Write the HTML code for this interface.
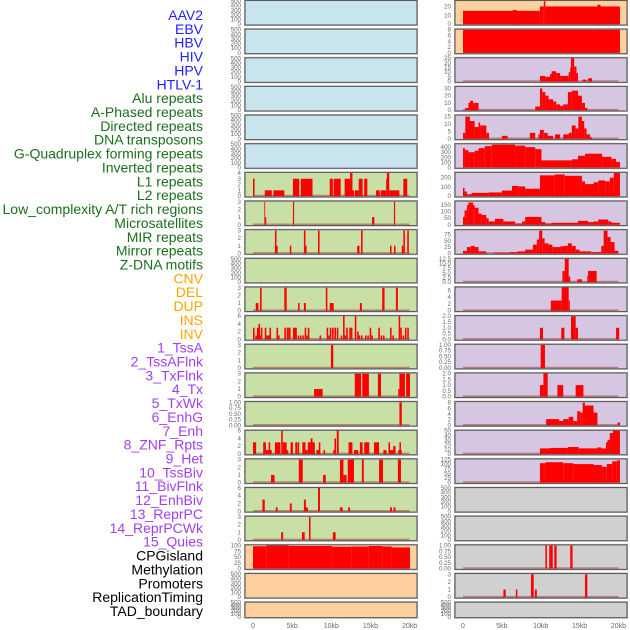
<!DOCTYPE html>
<html><head><meta charset="utf-8"><style>
html,body{margin:0;padding:0;background:#fff;}
svg{display:block;}
text{font-family:"Liberation Sans",sans-serif;}
</style></head><body>
<svg id="chart" width="630" height="630" viewBox="0 0 630 630" xmlns="http://www.w3.org/2000/svg">
<g id="labels"></g>
<g id="panels"></g>
<g id="xaxes"></g>
</svg>
<script>
// ---- Data ----
const trackLabels = ["AAV2","EBV","HBV","HIV","HPV","HTLV-1","Alu repeats","A-Phased repeats","Directed repeats","DNA transposons","G-Quadruplex forming repeats","Inverted repeats","L1 repeats","L2 repeats","Low_complexity A/T rich regions","Microsatellites","MIR repeats","Mirror repeats","Z-DNA motifs","CNV","DEL","DUP","INS","INV","1_TssA","2_TssAFlnk","3_TxFlnk","4_Tx","5_TxWk","6_EnhG","7_Enh","8_ZNF_Rpts","9_Het","10_TssBiv","11_BivFlnk","12_EnhBiv","13_ReprPC","14_ReprPCWk","15_Quies","CPGisland","Methylation","Promoters","ReplicationTiming","TAD_boundary"];
const labelGroups = ["v","v","v","v","v","v","r","r","r","r","r","r","r","r","r","r","r","r","r","s","s","s","s","s","c","c","c","c","c","c","c","c","c","c","c","c","c","c","c","o","o","o","o","o"];
const xTickValues = [0,5,10,15,20];
const xTickLabels = ["0","5kb","10kb","15kb","20kb"];

const T500 = ["0","100","200","300","400","500"];
const T3 = ["0","1","2","3"];
const T4 = ["0","1","2","3","4"];
const T6 = ["0","2","4","6"];
const T1 = ["0.00","0.25","0.50","0.75","1.00"];
const leftTicks = [T500,T500,T500,T500,T500,T500,T4,T3,T3,T500,T3,T6,T3,T3,T1,T6,T3,T6,T3,["0","25","50","75","100"],T500,T500];
const leftMax = [510,510,510,510,510,510,4.1,3.1,3.1,510,3.1,6.1,3.1,3.1,1.03,6.1,3.1,6.1,3.1,103,510,510];
const rightTicks = [["0","10","20"],["0","2","4","6","8"],["0","5","10","15","20","25"],["0","10","20","30"],["0","5","10","15"],["0","100","200","300","400"],["0","100","200"],["0","50","100","150"],["0","25","50","75"],["0.0","2.5","5.0","7.5","10.0","12.5"],T6,["0.0","0.5","1.0","1.5","2.0"],T1,["0.0","0.5","1.0","1.5","2.0"],["0","2","4","6","8"],["0","10","20","30","40","50"],["0","25","50","75","100","125"],T500,T500,T1,T3,T500];
const rightMax = [26.7,8.2,25.4,32.8,16,467,257,181,94,12.8,7,2.05,1.03,2.05,8.4,51,128,510,510,1.03,3.1,510];

// segments: [startKb, endKb, value]
const L6 = [[0,0.2,3],[1.5,2.4,1],[2.6,4.0,1],[5.1,5.9,3],[6.1,7.6,3],[9.8,10.2,3],[10.3,11.2,3],[11.7,12.4,3],[12.4,12.7,4],[12.7,12.9,1],[13.0,13.5,1],[13.5,14.0,3],[14.2,14.6,3],[15.7,16.2,1],[16.3,17.0,1],[17.0,17.1,3],[17.1,17.4,4],[17.4,18.7,1],[19.2,19.7,3]];
const L7 = [[1.45,1.55,3],[1.55,1.7,1],[5.1,5.25,3],[15.2,15.5,1],[18.0,18.15,3]];
const L8 = [[2.8,3.0,3],[3.0,3.15,1],[4.7,4.9,1],[6.5,6.7,3],[6.7,6.85,1],[8.3,8.5,3],[13.3,13.6,1],[13.8,14.0,3],[17.5,17.7,1],[18.0,18.2,1],[19.0,19.2,1],[19.2,19.4,3],[19.7,19.9,3]];
const L10 = [[0.35,0.7,1],[0.9,1.1,3],[4.0,4.3,3],[5.75,5.95,1],[6.5,6.75,1],[9.3,9.5,3],[9.8,10.3,1],[13.65,13.9,1],[16.5,16.8,3],[18.25,18.5,3]];
const L11 = [[0,0.2,3],[0.3,0.5,1],[0.5,0.7,3],[0.7,0.9,4],[0.9,1.0,1],[1.0,1.2,3],[1.5,1.7,3],[1.7,1.9,1],[1.9,2.1,1],[2.1,2.3,3],[3.0,3.2,3],[3.2,3.4,1],[4.0,4.2,3],[4.3,4.5,3],[4.5,4.8,3],[5.1,5.3,3],[5.3,5.6,3],[5.7,5.9,1],[6.0,6.2,1],[6.3,6.5,1],[6.6,6.8,3],[6.8,7.0,1],[7.0,7.2,3],[8.5,8.7,1],[9.4,9.6,3],[9.6,9.8,1],[9.8,10.0,3],[10.1,10.3,3],[10.4,10.6,3],[10.7,10.9,3],[11.2,11.4,1],[11.5,11.7,6],[11.7,11.9,1],[11.9,12.1,3],[12.3,12.5,3],[12.5,12.7,3],[13.0,13.2,6],[13.3,13.5,2],[13.5,13.7,1],[13.8,14.0,1],[14.3,14.5,1],[14.6,14.8,1],[14.9,15.1,3],[15.1,15.3,1],[16.0,16.2,3],[16.3,16.5,1],[16.6,16.8,1],[17.5,17.7,3],[17.8,18.0,1],[18.6,18.8,6],[18.8,19.0,3],[19.1,19.3,1],[19.4,19.6,3],[19.7,19.9,3]];
const L12 = [[9.95,10.25,3]];
const L13 = [[7.8,8.9,1],[13.0,13.8,3],[13.95,14.8,3],[15.95,16.35,3],[18.55,18.7,1],[18.7,19.4,3],[19.55,20.05,3]];
const L14 = [[18.7,19.0,1]];
const L15 = [[0,0.4,3],[1.3,1.65,3],[1.65,2.4,1],[2.0,2.2,3],[2.8,3.5,3],[3.6,3.8,6],[3.8,4.3,3],[4.3,4.5,1],[4.8,5.1,3],[5.4,5.65,3],[5.7,5.9,3],[6.3,6.7,3],[6.7,7.0,1],[7.0,7.35,3],[7.35,7.6,4],[7.6,7.9,3],[8.1,8.5,1],[8.4,8.6,3],[9.0,9.2,1],[10.25,10.4,1],[10.4,10.6,4],[10.7,10.95,6],[12.2,12.7,3],[12.9,13.45,1],[13.65,14.0,3],[14.2,14.85,3],[15.45,16.1,3],[16.65,17.05,1],[17.3,17.5,3],[17.5,17.9,1],[17.9,18.2,2],[18.55,19.0,1],[18.7,18.9,3]];
const L16 = [[2.3,2.75,1],[5.85,6.35,3],[8.95,9.3,1],[11.1,11.55,3],[11.55,11.95,1],[12.1,12.9,3],[13.9,14.15,3],[16.1,16.6,3],[18.5,18.9,3]];
const L17 = [[1.2,1.5,3],[2.9,3.15,1],[4.7,4.95,2],[6.5,6.75,3],[6.7,7.0,1],[8.3,8.55,6],[11.1,11.45,1],[12.15,12.4,1],[17.5,17.75,1],[17.95,18.2,1]];
const L18 = [[3.6,3.85,1],[6.25,6.6,1],[7.15,7.35,3],[10.2,10.55,1]];
const L19 = [[0,1.7,97],[1.7,4.55,100],[4.55,10.1,98],[10.1,12.6,95],[12.6,14.8,96],[14.8,16.5,98],[16.5,17.7,96],[17.7,20.05,92]];

const R0 = [[0,9.9,15],[6.4,6.9,16],[9.9,10.4,20],[10.4,10.6,26],[10.6,20.2,20],[17.3,17.7,22]];
const R1 = [[0,20.2,8]];
const R2 = [[9.9,10.6,6],[10.6,11.2,5],[11.2,11.4,8],[11.4,12.0,11],[12.0,12.5,9],[12.5,13.6,6],[13.6,13.8,10],[13.8,13.9,15],[13.9,14.3,25],[14.3,14.6,16],[14.6,14.8,9],[15.4,15.9,2],[16.1,16.6,3.5]];
const R3 = [[0.3,0.7,3],[0.7,0.9,10],[0.9,1.3,13],[1.3,2.0,10],[9.3,9.9,5],[9.9,10.2,30],[10.2,10.6,25],[10.6,11.0,20],[11.0,11.6,15],[11.6,12.0,12],[12.0,12.5,8],[12.5,12.9,6],[12.9,13.5,8],[13.5,14.0,25],[14.0,14.8,27],[14.8,15.3,20],[15.3,15.7,10],[15.7,16.0,3]];
const R4 = [[0,0.3,4],[0.3,0.9,15],[0.9,1.5,12],[1.5,2.0,8],[2.0,2.2,11],[2.2,3.0,9],[3.0,3.35,4],[5.0,5.75,2],[8.6,9.3,4],[9.7,9.9,3],[9.9,10.4,6],[10.4,10.9,4],[10.9,11.6,2],[11.85,12.5,3],[12.9,13.6,3],[13.6,14.0,4],[14.0,14.5,9],[14.5,14.85,7],[14.85,15.3,15],[15.3,15.6,12],[15.6,15.9,7],[15.9,16.35,3],[16.35,16.6,1]];
const R5 = [[0,0.25,380],[0.25,0.7,340],[0.7,1.5,300],[1.5,2.0,330],[2.0,2.8,380],[2.8,3.7,420],[3.7,6.7,450],[6.7,8.0,430],[8.0,9.3,400],[9.3,10.1,360],[10.1,14.0,140],[14.0,14.8,160],[14.8,15.7,230],[15.7,17.9,270],[17.9,19.1,210],[19.1,19.7,170],[19.7,20.2,110]];
const R6 = [[0,0.2,90],[0.2,0.5,50],[0.5,1.1,20],[1.1,3.3,35],[3.3,5.0,40],[5.0,6.3,60],[6.3,7.1,110],[7.1,8.0,105],[8.0,9.9,80],[9.9,11.8,225],[11.8,13.1,235],[13.1,15.3,220],[15.3,15.7,160],[15.7,16.8,130],[16.8,17.4,150],[17.4,18.3,170],[18.3,18.9,160],[18.9,19.4,200],[19.4,20.2,250]];
const R7 = [[0,0.2,60],[0.2,0.5,110],[0.5,0.7,150],[0.7,1.3,170],[1.3,1.5,150],[1.5,2.0,130],[2.0,2.4,85],[2.4,3.0,75],[3.0,3.3,50],[3.3,4.1,25],[4.1,5.2,45],[5.2,6.7,25],[6.7,7.6,10],[7.6,8.0,25],[8.0,10.1,60],[10.1,10.6,20],[10.6,11.4,10],[11.4,14.8,15],[14.8,16.1,30],[16.1,16.8,20],[16.8,17.4,25],[17.4,18.7,40],[18.7,19.1,25],[19.1,20.2,15]];
const R8 = [[0,0.5,10],[0.5,1.0,25],[1.0,1.5,30],[1.5,2.0,25],[2.0,3.0,8],[4.0,6.0,3],[6.0,7.0,5],[7.0,8.0,8],[8.0,9.0,15],[9.0,9.5,35],[9.5,9.8,55],[9.8,10.2,90],[10.2,10.5,60],[10.5,11.0,40],[11.0,11.5,35],[11.5,12.5,25],[12.5,13.0,28],[13.0,13.5,30],[13.5,14.0,40],[14.0,14.5,30],[14.5,15.0,15],[15.0,16.5,8],[16.5,17.8,5],[17.8,18.1,30],[18.1,18.6,90],[18.6,19.0,65],[19.0,19.5,45],[19.5,20.0,10]];
const R9 = [[12.8,13.1,6],[13.1,13.6,12.5],[13.6,13.8,3],[14.7,15.3,1.5],[16.0,16.1,3.5],[16.1,17.2,6]];
const R10 = [[11.3,12.7,3],[12.7,13.6,7],[13.6,13.75,3]];
const R11 = [[9.9,10.3,1],[12.65,13.05,1],[13.9,14.5,2],[14.5,14.8,1],[19.7,20.1,1]];
const R12 = [[10.0,10.55,1]];
const R13 = [[9.9,10.35,1],[10.35,10.9,2],[12.15,12.9,1],[14.5,15.5,1]];
const R14 = [[10.7,12.4,2.2],[12.4,12.9,1.5],[12.9,13.6,2.2],[13.6,14.2,3],[14.2,14.7,1.5],[14.7,15.1,5],[15.1,15.4,4.5],[15.4,15.7,8],[15.7,16.8,7],[16.8,17.3,4.5],[19.9,20.2,1]];
const R15 = [[9.9,11.2,12],[11.2,13.5,13],[13.5,14.9,15],[14.9,17.3,12],[17.3,17.8,14],[17.8,18.4,12],[18.4,18.6,25],[18.6,18.9,30],[18.9,19.3,45],[19.3,20.2,50]];
const R16 = [[9.9,10.6,105],[10.6,12.9,110],[12.9,14.2,105],[14.2,16.8,100],[16.8,17.9,95],[17.9,18.5,85],[18.5,19.2,100],[19.2,19.8,115],[19.8,20.2,120]];
const R19 = [[10.6,10.8,1],[11.1,11.55,1],[11.75,12.05,1],[13.8,14.1,1]];
const R20 = [[5.2,5.5,1],[6.8,7.0,1],[8.75,9.1,3],[9.25,9.5,1],[15.7,16.0,3]];

const leftSegs = [[],[],[],[],[],[],L6,L7,L8,[],L10,L11,L12,L13,L14,L15,L16,L17,L18,L19,[],[]];
const rightSegs = [R0,R1,R2,R3,R4,R5,R6,R7,R8,R9,R10,R11,R12,R13,R14,R15,R16,[],[],R19,R20,[]];

// ---- Rendering ----
const NS = "http://www.w3.org/2000/svg";
function mk(tag, attrs, parent){const e=document.createElementNS(NS,tag);for(const k in attrs)e.setAttribute(k,attrs[k]);parent.appendChild(e);return e;}
const groupColor = {v:"#1f1fff", r:"#1a701a", s:"#ffa500", c:"#a33ef0", o:"#000000"};
const gLab = document.getElementById("labels");
trackLabels.forEach((t,i)=>{
  const e = mk("text",{x:203,y:15+i*13.86,"text-anchor":"end","dominant-baseline":"central","font-size":"14",fill:groupColor[labelGroups[i]]},gLab);
  
  
  e.textContent = t;
});

const cols = [
  {x0:245, x1:417, zero:253, pxPerKb:7.83, ticks:leftTicks, max:leftMax, segs:leftSegs, side:"left"},
  {x0:455, x1:627, zero:463, pxPerKb:7.77, ticks:rightTicks, max:rightMax, segs:rightSegs, side:"right"}
];
function bgColor(side,i){
  if(side==="left") return i<6?"#c8e4ec":(i<19?"#c8e0a6":"#fed0a0");
  return i<2?"#fed0a0":(i<17?"#d6c6e1":"#d0d0d0");
}
const gP = document.getElementById("panels");
cols.forEach(c=>{
  const xs = kb => c.zero + kb*c.pxPerKb;
  for(let i=0;i<22;i++){
    const top = 0.5 + i*28.65;
    const h = i<21 ? 24.5 : 15.5;
    const bottom = top + h;
    const y0 = bottom - 0.8;
    const ys = v => y0 - (v/c.max[i])*(y0-top);
    const g = mk("g",{},gP);
    
    
    mk("rect",{x:c.x0-0.5,y:top-0.5,width:c.x1-c.x0+1,height:h+1,fill:"none",stroke:"#bbb","stroke-width":1},g);
    mk("rect",{x:c.x0,y:top,width:c.x1-c.x0,height:h,fill:bgColor(c.side,i)},g);
    const segs = c.segs[i];
    if(segs.length){
      const bl = mk("line",{x1:xs(0),x2:xs(20),y1:y0-0.5,y2:y0-0.5,stroke:"rgba(160,30,30,0.45)","stroke-width":1.6},g);
      
      
    }
    segs.forEach(s=>{
      const r = mk("rect",{x:xs(s[0]),y:ys(s[2]),width:Math.max(0.8,xs(s[1])-xs(s[0])),height:y0-ys(s[2]),fill:"#ff0000"},g);
      
      
    });
    mk("rect",{x:c.x0,y:top,width:c.x1-c.x0,height:h,fill:"none",stroke:"#5c5c5c","stroke-width":1.1},g);
    c.ticks[i].forEach(lbl=>{
      const v = parseFloat(lbl);
      const t = mk("text",{x:c.x0-4,y:ys(v)+2,"text-anchor":"end","font-size":"6.2",fill:"#6a6a6a"},g);
      
      
      t.textContent = lbl;
    });
  }
});
const gX = document.getElementById("xaxes");
cols.forEach(c=>{
  xTickValues.forEach((v,k)=>{
    const t = mk("text",{x:c.zero+v*c.pxPerKb,y:628,"text-anchor":"middle","font-size":"7",fill:"#6a6a6a"},gX);
    
    
    t.textContent = xTickLabels[k];
  });
});
</script>
</body></html>
